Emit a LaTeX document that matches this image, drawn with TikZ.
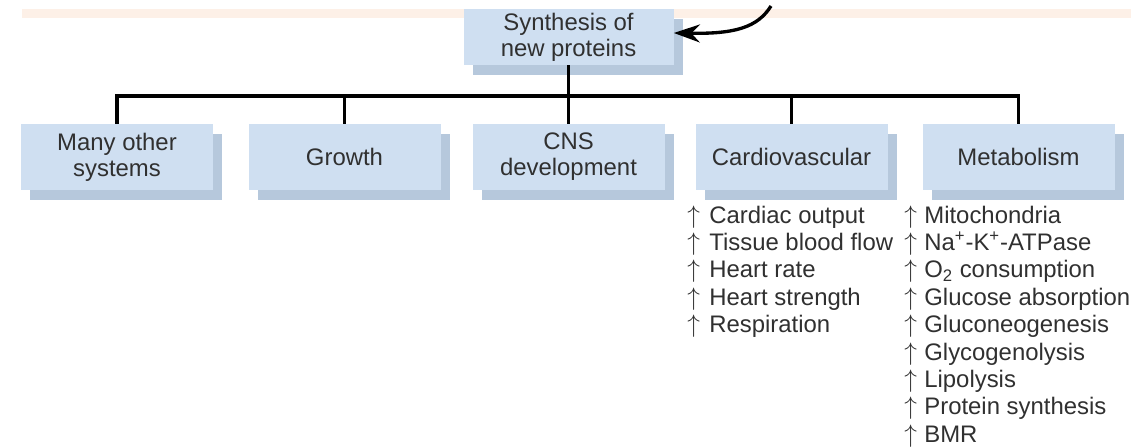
\documentclass[tikz,border=0pt]{standalone}
\usepackage{fontspec}
\setmainfont{Liberation Sans}
\usetikzlibrary{arrows.meta,shadows}

\definecolor{boxblue}{HTML}{CFDFF1}
\definecolor{shadeblue}{HTML}{B6C8DC}
\definecolor{bandpeach}{HTML}{FDF0E7}
\definecolor{ink}{HTML}{303030}

\tikzset{
  box/.style={fill=boxblue, text=ink, align=center, inner sep=0pt,
    minimum width=3.84cm, minimum height=1.32cm,
    font=\fontsize{13.6}{14.8}\selectfont,
    copy shadow={fill=shadeblue, draw=none, shadow xshift=0.18cm, shadow yshift=-0.19cm}},
  link/.style={line width=1.9pt},
  item/.style={anchor=base west, inner sep=0pt, text=ink, font=\fontsize{13.6}{15.6}\selectfont},
}

\begin{document}
\begin{tikzpicture}
    \useasboundingbox (0,0) rectangle (22.84,-8.92);
    \fill[bandpeach] (0.44,-0.18) rectangle (22.62,-0.35);

    % top box and the branch row
    \node[box, minimum width=4.2cm, minimum height=1.12cm] (syn) at (11.37,-0.74) {Synthesis of\\new proteins};
    \node[box] (other) at (2.34,-3.14) {Many other\\systems};
    \node[box] (growth) at (6.89,-3.14) {Growth};
    \node[box] (cns) at (11.37,-3.14) {CNS\\development};
    \node[box] (cardio) at (15.83,-3.14) {Cardiovascular};
    \node[box] (metab) at (20.37,-3.14) {Metabolism};

    \coordinate (hub) at (11.37,-1.92);
    \coordinate (src) at (15.42,-0.12);

    \draw[link] (syn.south) -- (hub);
    \draw[link] (other.north) |- (hub) -| (metab.north);
    \foreach \b in {growth,cns,cardio}
        \draw[link] (\b.north) -- (\b.north |- hub);
    \draw[link, -{Stealth[length=0.52cm,width=0.36cm]}] (src) .. controls (15.15,-0.55) and (14.7,-0.68) .. ([yshift=0.08cm]syn.east);

    % effects
    \foreach \txt [count=\i from 0] in {Cardiac output, Tissue blood flow, Heart rate, Heart strength, Respiration}
        \node[item] (cv\i) at (13.74,-4.46-0.548*\i) {\makebox[0.44cm][l]{$\uparrow$}\txt};
    \foreach \txt [count=\i from 0] in {Mitochondria, Na\textsuperscript{+}-K\textsuperscript{+}-ATPase, O\textsubscript{2} consumption, Glucose absorption, Gluconeogenesis, Glycogenolysis, Lipolysis, Protein synthesis, BMR}
        \node[item] (mb\i) at (18.08,-4.46-0.548*\i) {\makebox[0.40cm][l]{$\uparrow$}\txt};
\end{tikzpicture}
\end{document}
